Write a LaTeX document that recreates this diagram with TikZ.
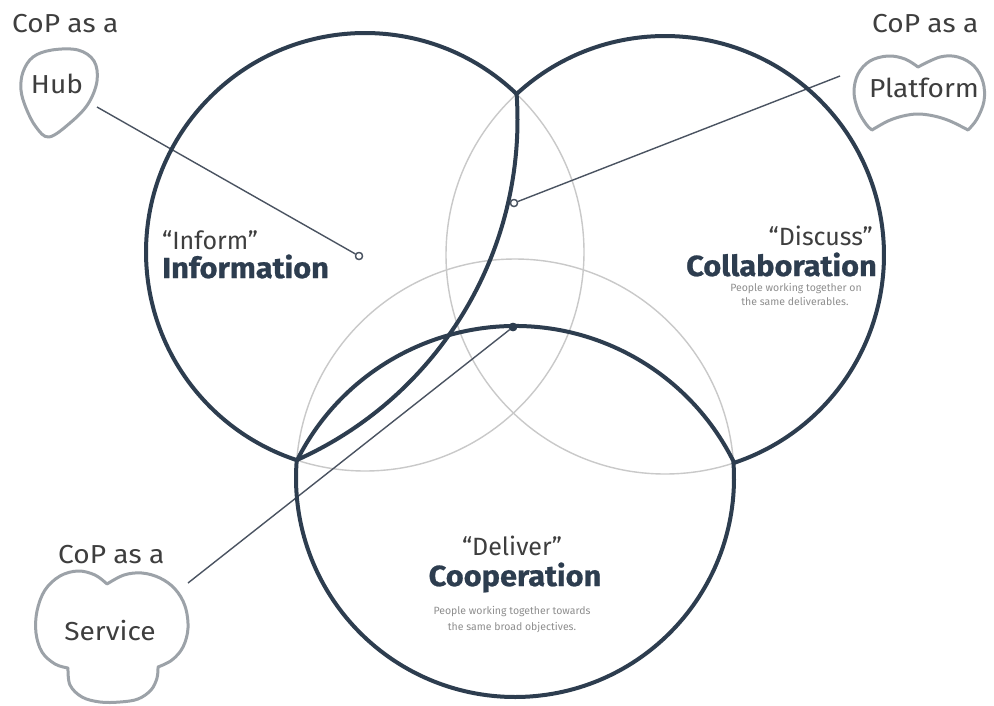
\documentclass[tikz,border=0pt]{standalone}
\usepackage{fontspec}
\setmainfont{Fira Sans}
\newfontfamily\titlefont{Fira Sans}[FakeStretch=1.06,BoldFeatures={FakeBold=0.8}]
\newfontfamily\copfont{Fira Sans}[FakeStretch=1.08]
\definecolor{navy}{HTML}{2D3D4F}
\definecolor{lightc}{HTML}{C9C9C9}
\definecolor{conn}{HTML}{4A5361}
\definecolor{shapeg}{HTML}{9CA2A8}
\definecolor{copg}{HTML}{3E3E3E}
\definecolor{subg}{HTML}{8E8E8E}
\begin{document}
\begin{tikzpicture}[x=1pt,y=-1pt,
  darkarc/.style={draw=navy,line width=4pt,line cap=round},
  lightarc/.style={draw=lightc,line width=1.4pt},
  connline/.style={draw=conn,line width=1.4pt},
  shapeline/.style={draw=shapeg,line width=3pt,line join=round},
  opendot/.style={circle,draw=conn,fill=white,line width=1.3pt,inner sep=0pt,minimum size=7pt},
  filldot/.style={circle,draw=navy,fill=navy,inner sep=0pt,minimum size=8pt},
  coptext/.style={inner sep=0pt,anchor=base west,text=copg,font=\copfont\fontsize{26}{30}\selectfont},
  quotetext/.style={inner sep=0pt,text=copg,font=\fontsize{25}{30}\selectfont},
  titletext/.style={inner sep=0pt,text=navy,font=\titlefont\fontsize{29}{32}\selectfont\bfseries},
  subtext/.style={inner sep=0pt,anchor=base,text=subg,font=\fontsize{10.5}{14}\selectfont}
]
\useasboundingbox[fill=white] (0,0) rectangle (994,705);

% light full circles
\draw[lightarc] (365,252) circle[radius=219];
\draw[lightarc] (665,255) circle[radius=219];
\draw[lightarc] (515,478) circle[radius=219];

% dots
\node[opendot] (dI) at (359,256) {};
\node[opendot] (dC) at (514,203) {};
\node[filldot] (dK) at (513,327) {};

% connector ends at shapes
\coordinate (hubE) at (97,107);
\coordinate (platE) at (840,76);
\coordinate (servE) at (188,583);

\draw[connline] (hubE) -- (dI);
\draw[connline] (platE) -- (dC);
\draw[connline] (servE) -- (dK);

% dark outer arcs
\draw[darkarc] (365,252) ++(-46.2:219) arc[start angle=-46.2, end angle=-251.8, radius=219];
\draw[darkarc] (665,255) ++(-132.65:219) arc[start angle=-132.65, end angle=71.77, radius=219];
\draw[darkarc] (515,478) ++(-3.93:219) arc[start angle=-3.93, end angle=184.7, radius=219];
% dark inner arcs
\draw[darkarc] (144.6,119.6) ++(-3.95:372.9) arc[start angle=-3.95, end angle=65.93, radius=372.9];
\draw[darkarc] (515,570) ++(206.7:244) arc[start angle=206.7, end angle=333.9, radius=244];

% redraw dots on top
\node[opendot] at (dI) {};
\node[opendot] at (dC) {};
\node[filldot] at (dK) {};

% Hub shape
\draw[shapeline] plot[smooth cycle, tension=0.6] coordinates {(23,72) (33,57) (52,50) (78,50) (94,61) (97,81) (88,104) (70,123) (49,137) (36,127) (26,108) (21,90)};
% Platform shape
\draw[shapeline] plot[smooth, tension=0.6] coordinates {(918,67) (905,59) (888,56) (870,61) (858,74) (854,92) (858,110) (866,124) (872,130)}
  -- plot[smooth, tension=0.6] coordinates {(872,130) (888,121) (903,116) (918,114) (934,116) (950,121) (968,130)}
  -- plot[smooth, tension=0.6] coordinates {(968,130) (977,119) (984,101) (983,82) (974,66) (958,57) (940,57) (918,67)} -- cycle;
% Service shape
\draw[shapeline] plot[smooth, tension=0.6] coordinates {(107,584) (95,575) (78,571) (60,576) (45,590) (37,611) (36,633) (42,652) (55,664) (68,668)}
  -- plot[smooth, tension=0.6] coordinates {(68,668) (70,685) (82,697) (100,702) (120,702) (138,699) (151,690) (157,678) (158,667)}
  -- plot[smooth, tension=0.6] coordinates {(158,667) (172,660) (183,647) (188,628) (185,606) (175,589) (160,578) (142,573) (124,575) (107,584)} -- cycle;

% CoP labels
\node[coptext] (cop1) at (12,32) {CoP as a};
\node[coptext] (cop2) at (872,32) {CoP as a};
\node[coptext] (cop3) at (58,563) {CoP as a};
\node[coptext,anchor=base] (hub) at (57,93) {Hub};
\node[coptext,anchor=base] (plat) at (924,97) {Platform};
\node[coptext,anchor=base] (serv) at (110,640) {Service};

% Circle labels
\node[quotetext,anchor=base west] (inf1) at (162,249) {“Inform”};
\node[titletext,anchor=base west] (inf2) at (162,278) {Information};

\node[quotetext,anchor=base east] (col1) at (873,245) {“Discuss”};
\node[titletext,anchor=base east] (col2) at (877,276) {Collaboration};
\node[subtext] (col3) at (796,291) {People working together on};
\node[subtext] (col4) at (795,305) {the same deliverables.};

\node[quotetext,anchor=base] (coo1) at (512,555) {“Deliver”};
\node[titletext,anchor=base] (coo2) at (515,586) {Cooperation};
\node[subtext] (coo3) at (512,614) {People working together towards};
\node[subtext] (coo4) at (512,630) {the same broad objectives.};
\end{tikzpicture}
\end{document}
